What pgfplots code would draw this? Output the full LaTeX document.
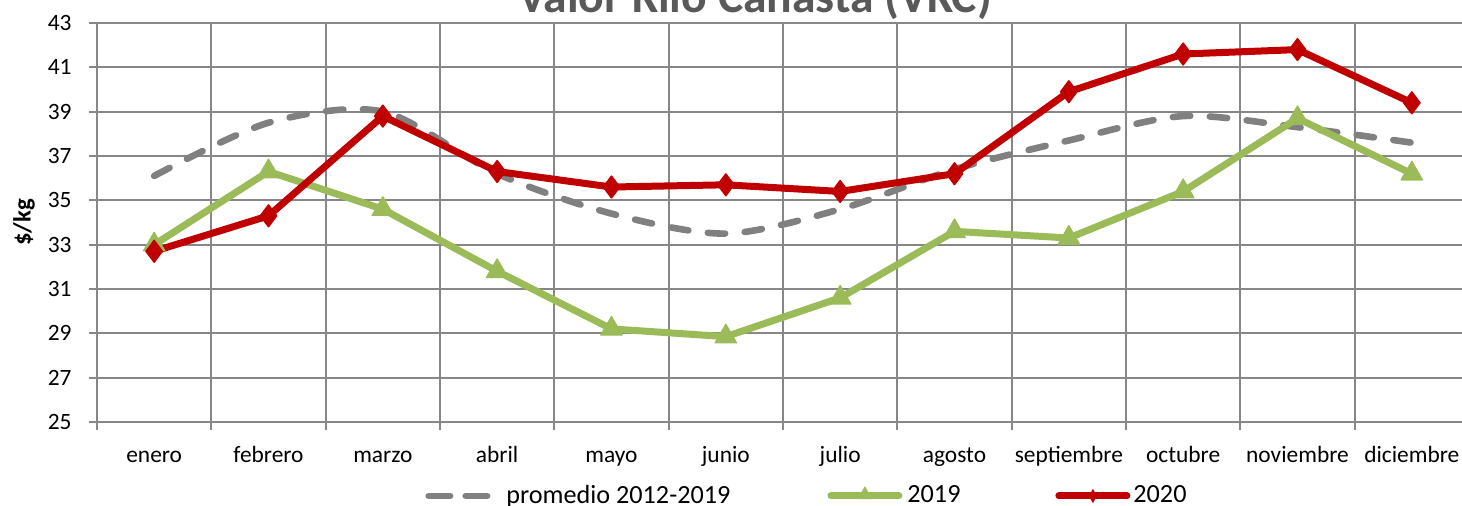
\documentclass[border=0pt]{standalone}
\usepackage{pgfplots}
\usepackage{pgfplotstable}
\pgfplotsset{compat=1.18}
\usepackage{fontspec}
\setmainfont{Carlito}
\definecolor{gridgray}{HTML}{878787}
\definecolor{avggray}{HTML}{808080}
\definecolor{gthree}{HTML}{9BBB59}
\definecolor{rtwo}{HTML}{C00000}
\definecolor{titlegray}{HTML}{595959}
\pgfplotstableread{
x avg y19 y20
0 36.1 33.0 32.7
1 38.5 36.3 34.3
2 39.0 34.6 38.8
3 36.2 31.8 36.3
4 34.4 29.2 35.6
5 33.5 28.85 35.7
6 34.6 30.6 35.4
7 36.4 33.6 36.2
8 37.7 33.3 39.9
9 38.8 35.4 41.6
10 38.3 38.7 41.8
11 37.6 36.2 39.4
}\data
\begin{document}
\begin{tikzpicture}
\begin{axis}[
  scale only axis, width=686pt, height=199.5pt,
  at={(0,0)}, anchor=south west,
  xmin=-0.5, xmax=11.5, ymin=25, ymax=43,
  xtick={-0.5,0.5,...,11.5},
  x tick label as interval,
  xticklabels={enero,febrero,marzo,abril,mayo,junio,julio,agosto,septiembre,octubre,noviembre,diciembre},
  ytick={25,27,...,43},
  /pgf/number format/assume math mode=true,
  grid=major,
  grid style={gridgray, line width=1pt},
  axis line style={gridgray, line width=1pt},
  tick style={gridgray, line width=1pt},
  tick align=outside, major tick length=4pt,
  tick pos=left,
  ticklabel style={font=\fontsize{11.7}{14}\selectfont, text=black},
  yticklabel style={inner xsep=0pt, xshift=-8.5pt},
  xticklabel style={anchor=base, inner sep=0pt, yshift=-16.3pt},
  title={Valor Kilo Canasta (VKC)},
  every axis title/.style={at={(axis description cs:0.4796,1)}, anchor=base, yshift=5pt, inner sep=0pt,
    font=\bfseries\fontsize{23.8}{27}\selectfont, text=titlegray},
  ylabel={\$/kg},
  every axis y label/.style={at={(axis description cs:-0.0532,0.5)}, rotate=90, anchor=center,
    font=\bfseries\fontsize{12.4}{14}\selectfont},
  legend columns=3,
  legend cell align=left,
  legend style={draw=none, fill=none, at={(axis description cs:0,0)}, anchor=west,
    xshift=164pt, yshift=-37pt, inner sep=0pt, column sep=0pt, row sep=0pt,
    nodes={inner sep=0pt}, font=\fontsize{13.1}{15}\selectfont},
]
\addplot[avggray, line width=3.3pt, dash pattern=on 8.7pt off 9.8pt, line cap=round, line join=round, smooth,
  legend image code/.code={\draw[avggray, line width=3.3pt, line cap=round, dash pattern=on 10.7pt off 7.8pt] (1.65pt,0pt) -- (30.85pt,0pt);}]
  table[x=x,y=avg]{\data};
\addlegendentry{\hspace*{8pt}\makebox[160.5pt][l]{promedio 2012-2019}}
\addplot[gthree, line width=3.5pt, line join=round, mark=triangle*, mark size=6.2pt, mark options={solid, line width=0.6pt, fill=gthree},
  legend image code/.code={\draw[gthree, line width=3.5pt, line cap=round] (1.75pt,0pt) -- (35.75pt,0pt); \path[fill=gthree, draw=none] (18.75pt,0.6pt) +(90:4.3pt) -- +(210:4.3pt) -- +(330:4.3pt) -- cycle;}]
  table[x=x,y=y19]{\data};
\addlegendentry{\hspace*{2.5pt}\makebox[74pt][l]{2019}}
\addplot[rtwo, line width=3.5pt, line join=round, mark=diamond*, mark size=5.4pt, mark options={solid, line width=0.8pt, fill=rtwo},
  legend image code/.code={\draw[rtwo, line width=3.5pt, line cap=round] (1.75pt,0pt) -- (35.75pt,0pt); \path[fill=rtwo, draw=none] (18.75pt,0pt) +(0pt,3.6pt) -- +(2pt,0pt) -- +(0pt,-3.6pt) -- +(-2pt,0pt) -- cycle;}]
  table[x=x,y=y20]{\data};
\addlegendentry{\hspace*{1.5pt}2020}
\end{axis}
\pgfresetboundingbox
\path[use as bounding box] (-48.5pt,-42pt) rectangle (682.5pt,211pt);
\end{tikzpicture}
\end{document}
